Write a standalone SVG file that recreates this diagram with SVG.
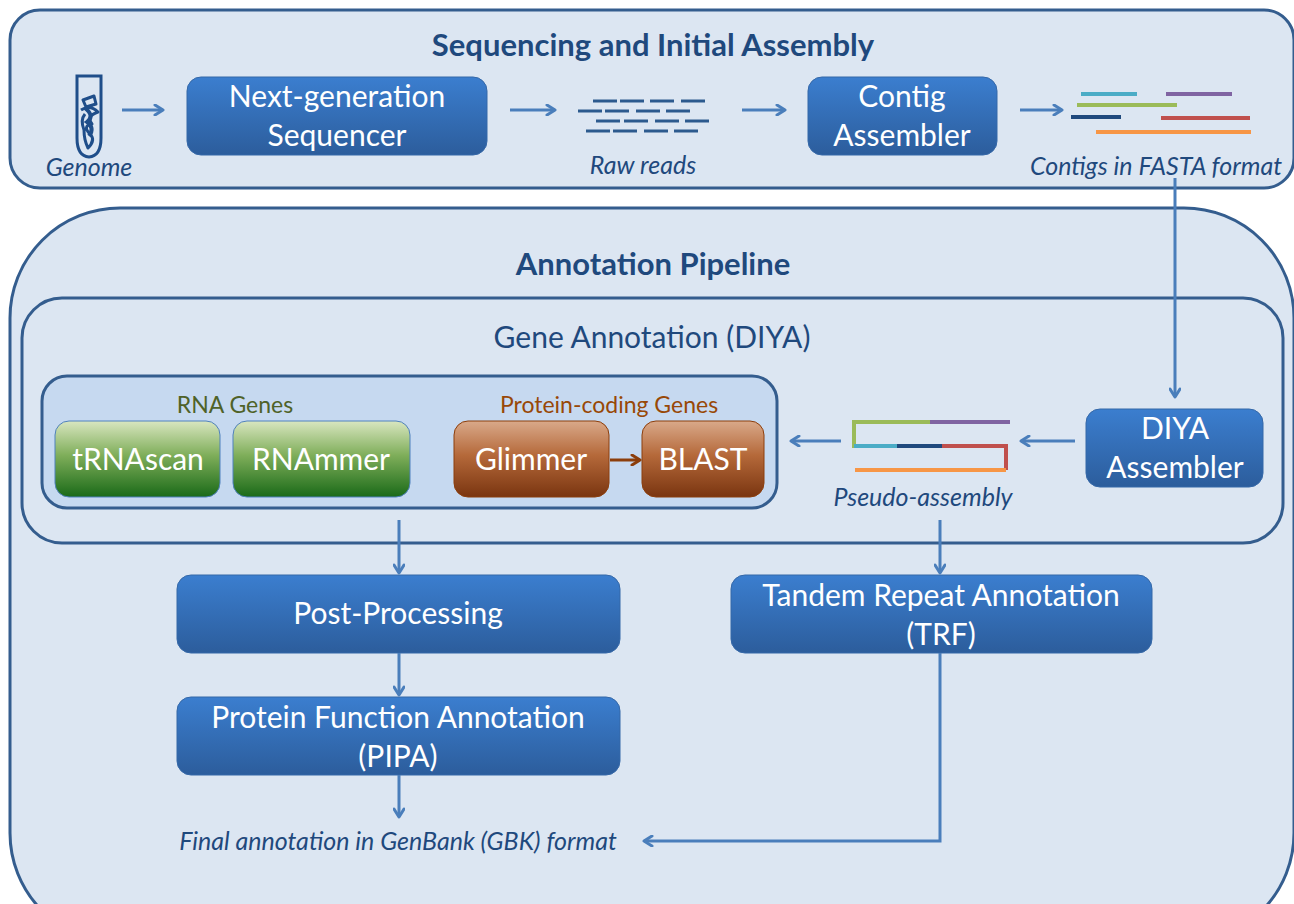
<svg xmlns="http://www.w3.org/2000/svg" width="1294" height="904" viewBox="0 0 1294 904">
<defs>
<linearGradient id="gBlue" x1="0" y1="0" x2="0" y2="1">
<stop offset="0" stop-color="#3B7ECF"/><stop offset="1" stop-color="#2C5D9C"/>
</linearGradient>
<linearGradient id="gGreen" x1="0" y1="0" x2="0" y2="1">
<stop offset="0" stop-color="#D9E6C0"/><stop offset="0.45" stop-color="#7FAE5A"/><stop offset="1" stop-color="#1A6A18"/>
</linearGradient>
<linearGradient id="gBrown" x1="0" y1="0" x2="0" y2="1">
<stop offset="0" stop-color="#D9A98A"/><stop offset="0.45" stop-color="#B5693A"/><stop offset="1" stop-color="#7A3510"/>
</linearGradient>
<marker id="ah" viewBox="0 0 12 12" refX="10" refY="6" markerWidth="12" markerHeight="12" markerUnits="userSpaceOnUse" orient="auto">
<path d="M2,1 L10,6 L2,11" fill="none" stroke="#4A7EBB" stroke-width="3" stroke-linecap="round" stroke-linejoin="round"/>
</marker>
<marker id="ahb" viewBox="0 0 12 12" refX="10" refY="6" markerWidth="12" markerHeight="12" markerUnits="userSpaceOnUse" orient="auto">
<path d="M2,1 L10,6 L2,11" fill="none" stroke="#8C3E0C" stroke-width="3" stroke-linecap="round" stroke-linejoin="round"/>
</marker>
</defs>
<style>
.panel{fill:#DCE6F2;stroke:#345D8E;stroke-width:3}
.inner{fill:#C6D9F0;stroke:#345D8E;stroke-width:3}
.bbox{fill:url(#gBlue);stroke:#3568A8;stroke-width:1}
.gbox{fill:url(#gGreen);stroke:#4F81BD;stroke-width:1}
.rbox{fill:url(#gBrown);stroke:#8C3E0C;stroke-width:1}
.wt{font-family:Lato,"Open Sans",sans-serif;font-size:30px;fill:#FFFFFF;text-anchor:middle}
.title{font-family:Lato,"Open Sans",sans-serif;font-size:31px;font-weight:bold;fill:#1F497D;text-anchor:middle}
.sub{font-family:Lato,"Open Sans",sans-serif;font-size:30px;fill:#1F497D;text-anchor:middle}
.lbl{font-family:Lato,"Open Sans",sans-serif;font-size:23px;text-anchor:middle}
.it{font-family:Lato,"Open Sans",sans-serif;font-size:25px;font-style:italic;fill:#1F497D;text-anchor:middle}
.conn{fill:none;stroke:#4A7EBB;stroke-width:3;marker-end:url(#ah)}
.rd{stroke:#2C5A8E;stroke-width:3}
.cl{stroke-width:4;fill:none}
</style>
<rect width="1294" height="904" fill="#FFFFFF"/>

<g id="panel-sequencing">
<rect class="panel" x="10" y="10" width="1284" height="178" rx="30"/>
<text class="title" x="653" y="56">Sequencing and Initial Assembly</text>
</g>

<g id="panel-annotation">
<rect class="panel" x="10" y="208" width="1284" height="735" rx="110"/>
<text class="title" x="653" y="275">Annotation Pipeline</text>
</g>

<g id="panel-gene-annotation">
<rect class="panel" x="22" y="298" width="1261" height="245" rx="40"/>
<text class="sub" x="652" y="348">Gene Annotation (DIYA)</text>
</g>

<g id="panel-genes">
<rect class="inner" x="42" y="376" width="735" height="132" rx="25"/>
<text class="lbl" x="235" y="413" fill="#4F6228">RNA Genes</text>
<text class="lbl" x="609" y="413" fill="#984807">Protein-coding Genes</text>
</g>

<g id="genome">
<path d="M77,76 L101,76 L101,138 Q101,156 89,157 Q77,156 77,138 Z" fill="none" stroke="#1F4E8A" stroke-width="3"/>
<path d="M83,100 L94,96 L96,104 L86,107 Z M81,110 Q90,104 98,112 Q86,116 92,124 Q82,126 90,134 Q96,140 88,148 Q84,140 84,130 Q80,120 85,114" fill="none" stroke="#1F4E8A" stroke-width="3" stroke-linejoin="round"/>
<path d="M85,108 Q95,116 87,122 Q95,128 89,136" fill="none" stroke="#1F4E8A" stroke-width="4"/>
<text class="it" x="89" y="176">Genome</text>
</g>

<g id="ngs">
<rect class="bbox" x="187" y="77" width="300" height="78" rx="14"/>
<text class="wt" x="337" y="107">Next-generation</text>
<text class="wt" x="337" y="146">Sequencer</text>
</g>

<g id="raw-reads">
<line class="rd" x1="593" y1="101" x2="617" y2="101"/><line class="rd" x1="620" y1="101" x2="644" y2="101"/><line class="rd" x1="650" y1="101" x2="674" y2="101"/><line class="rd" x1="681" y1="101" x2="705" y2="101"/>
<line class="rd" x1="578" y1="111" x2="602" y2="111"/><line class="rd" x1="605" y1="111" x2="629" y2="111"/><line class="rd" x1="636" y1="111" x2="660" y2="111"/><line class="rd" x1="666" y1="111" x2="690" y2="111"/>
<line class="rd" x1="596" y1="121" x2="620" y2="121"/><line class="rd" x1="624" y1="121" x2="648" y2="121"/><line class="rd" x1="655" y1="121" x2="679" y2="121"/><line class="rd" x1="685" y1="121" x2="709" y2="121"/>
<line class="rd" x1="586" y1="131" x2="610" y2="131"/><line class="rd" x1="613" y1="131" x2="637" y2="131"/><line class="rd" x1="644" y1="131" x2="668" y2="131"/><line class="rd" x1="674" y1="131" x2="698" y2="131"/>
<text class="it" x="643" y="174">Raw reads</text>
</g>

<g id="contig-assembler">
<rect class="bbox" x="808" y="77" width="189" height="78" rx="14"/>
<text class="wt" x="902" y="107">Contig</text>
<text class="wt" x="902" y="146">Assembler</text>
</g>

<g id="contigs">
<line class="cl" x1="1081" y1="94" x2="1137" y2="94" stroke="#4BACC6"/>
<line class="cl" x1="1166" y1="94" x2="1232" y2="94" stroke="#8064A2"/>
<line class="cl" x1="1077" y1="105" x2="1177" y2="105" stroke="#9BBB59"/>
<line class="cl" x1="1071" y1="117" x2="1121" y2="117" stroke="#1F497D"/>
<line class="cl" x1="1161" y1="118" x2="1250" y2="118" stroke="#C0504D"/>
<line class="cl" x1="1096" y1="132" x2="1251" y2="132" stroke="#F79646"/>
<text class="it" x="1156" y="175">Contigs in FASTA format</text>
</g>

<g id="trnascan">
<rect class="gbox" x="55" y="421" width="165" height="76" rx="14"/>
<text class="wt" x="138" y="470">tRNAscan</text>
</g>
<g id="rnammer">
<rect class="gbox" x="233" y="421" width="177" height="76" rx="14"/>
<text class="wt" x="321" y="470">RNAmmer</text>
</g>
<g id="glimmer">
<rect class="rbox" x="454" y="421" width="155" height="76" rx="14"/>
<text class="wt" x="531" y="470">Glimmer</text>
</g>
<g id="blast">
<rect class="rbox" x="642" y="421" width="122" height="76" rx="14"/>
<text class="wt" x="703" y="470">BLAST</text>
</g>

<g id="pseudo-assembly">
<polyline class="cl" points="930,422 854,422 854,446 897,446" stroke="#9BBB59"/>
<line class="cl" x1="930" y1="422" x2="1010" y2="422" stroke="#8064A2"/>
<line class="cl" x1="854" y1="446" x2="897" y2="446" stroke="#4BACC6"/>
<line class="cl" x1="897" y1="446" x2="942" y2="446" stroke="#1F497D"/>
<polyline class="cl" points="942,446 1006,446 1006,470" stroke="#C0504D"/>
<line class="cl" x1="855" y1="470" x2="1006" y2="470" stroke="#F79646"/>
<text class="it" x="923" y="506">Pseudo-assembly</text>
</g>

<g id="diya-assembler">
<rect class="bbox" x="1086" y="409" width="177" height="78" rx="14"/>
<text class="wt" x="1175" y="439">DIYA</text>
<text class="wt" x="1175" y="478">Assembler</text>
</g>

<g id="post-processing">
<rect class="bbox" x="177" y="575" width="443" height="78" rx="14"/>
<text class="wt" x="398" y="624">Post-Processing</text>
</g>

<g id="pipa">
<rect class="bbox" x="177" y="697" width="443" height="78" rx="14"/>
<text class="wt" x="398" y="728">Protein Function Annotation</text>
<text class="wt" x="398" y="767">(PIPA)</text>
</g>

<g id="trf">
<rect class="bbox" x="731" y="575" width="421" height="78" rx="14"/>
<text class="wt" x="941" y="606">Tandem Repeat Annotation</text>
<text class="wt" x="941" y="645">(TRF)</text>
</g>

<g id="final">
<text class="it" x="398" y="850">Final annotation in GenBank (GBK) format</text>
</g>

<g id="connectors">
<line class="conn" x1="122" y1="110" x2="163" y2="110"/>
<line class="conn" x1="510" y1="110" x2="555" y2="110"/>
<line class="conn" x1="742" y1="110" x2="785" y2="110"/>
<line class="conn" x1="1020" y1="110" x2="1062" y2="110"/>
<line class="conn" x1="1175" y1="178" x2="1175" y2="397"/>
<line class="conn" x1="1075" y1="441" x2="1021" y2="441"/>
<line class="conn" x1="841" y1="441" x2="791" y2="441"/>
<line x1="610" y1="460" x2="640" y2="460" stroke="#8C3E0C" stroke-width="3" marker-end="url(#ahb)"/>
<line class="conn" x1="399" y1="520" x2="399" y2="573"/>
<line class="conn" x1="399" y1="653" x2="399" y2="695"/>
<line class="conn" x1="399" y1="775" x2="399" y2="817"/>
<line class="conn" x1="940" y1="520" x2="940" y2="573"/>
<polyline class="conn" points="940,653 940,841 644,841"/>
</g>
</svg>
